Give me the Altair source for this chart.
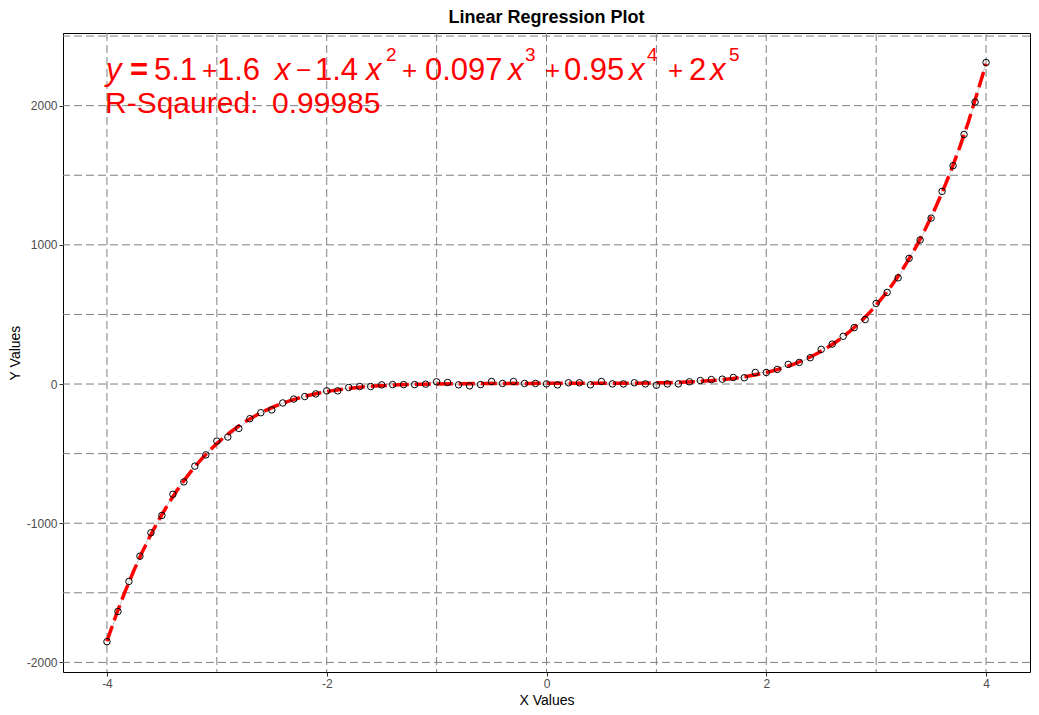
import altair as alt
import pandas as pd

# ---- data ----
x_vals = [round(-4.0 + 0.1 * i, 1) for i in range(81)]
y_vals = [
    -1851, -1634, -1418, -1237, -1069, -944, -792, -703, -590, -509,
    -410, -381, -319, -249, -206, -186, -136, -108, -90, -71,
    -49, -49, -25, -18, -18, -6, -4, -4, -4, -1,
    16, 11, -6, -13, -4, 18, 4, 18, 4, 4,
    1, -6, 9, 9, -6, 18, 1, 1, 9, 1,
    -9, 1, 1, 16, 25, 32, 35, 47, 45, 83,
    83, 105, 141, 155, 189, 249, 287, 343, 405, 463,
    579, 658, 763, 903, 1035, 1192, 1384, 1569, 1793, 2026,
    2310,
]
x_grid = [-4, -3, -2, -1, 0, 1, 2, 3, 4]
y_grid = [-2000, -1500, -1000, -500, 0, 500, 1000, 1500, 2000, 2500]
x_ticks = [-4, -2, 0, 2, 4]
y_ticks = [-2000, -1000, 0, 1000, 2000]

df = pd.DataFrame({"x": x_vals, "y": y_vals})
gx = pd.DataFrame({"v": x_grid})
gy = pd.DataFrame({"v": y_grid})

FONT = "Liberation Sans"
xs = alt.Scale(domain=[-4.4, 4.4], nice=False, zero=False)
ys = alt.Scale(domain=[-2069, 2522], nice=False, zero=False)

x_enc = alt.X("x:Q", scale=xs, title="X Values",
              axis=alt.Axis(values=x_ticks, labelExpr="datum.value + ''"))
y_enc = alt.Y("y:Q", scale=ys, title="Y Values",
              axis=alt.Axis(values=y_ticks, labelExpr="datum.value + ''"))

grid_style = dict(color="#7f7f7f", strokeWidth=1, strokeDash=[8, 4])
vgrid = alt.Chart(gx).mark_rule(**grid_style).encode(x=alt.X("v:Q", scale=xs))
hgrid = alt.Chart(gy).mark_rule(**grid_style).encode(y=alt.Y("v:Q", scale=ys))

conn = alt.Chart(df).mark_line(color="#c8c8c8", strokeWidth=1).encode(x=x_enc, y=y_enc)

fit = alt.Chart(df).transform_regression(
    "x", "y", method="poly", order=5
).mark_line(color="#ff0000", strokeWidth=3.5, strokeDash=[16, 6], strokeCap="butt").encode(
    x=x_enc, y=y_enc
)

pts = alt.Chart(df).mark_point(
    shape="circle", filled=False, color="black", strokeWidth=1, size=42, opacity=1
).encode(x=x_enc, y=y_enc)

# ---- annotation (equation pieces) ----
main_size, sup_size, plus_size = 31, 19, 26
base, sup_base, r_base = 47, 28, 80
pieces = [
    ("y", 43, base, main_size, "italic", "normal"),
    ("=", 67, base, main_size, "normal", "bold"),
    ("5.1", 91, base, main_size, "normal", "normal"),
    ("+", 139, base - 1, plus_size, "normal", "normal"),
    ("1.6", 154, base, main_size, "normal", "normal"),
    ("x", 212, base, main_size, "italic", "normal"),
    ("\u2212", 233, base - 1, plus_size, "normal", "normal"),
    ("1.4", 252, base, main_size, "normal", "normal"),
    ("x", 303, base, main_size, "italic", "normal"),
    ("2", 323, sup_base, sup_size, "normal", "normal"),
    ("+", 339, base - 1, plus_size, "normal", "normal"),
    ("0.097", 362, base, main_size, "normal", "normal"),
    ("x", 445, base, main_size, "italic", "normal"),
    ("3", 462, sup_base, sup_size, "normal", "normal"),
    ("+", 482, base - 1, plus_size, "normal", "normal"),
    ("0.95", 501, base, main_size, "normal", "normal"),
    ("x", 566, base, main_size, "italic", "normal"),
    ("4", 584, sup_base, sup_size, "normal", "normal"),
    ("+", 605, base - 1, plus_size, "normal", "normal"),
    ("2", 626, base, main_size, "normal", "normal"),
    ("x", 647, base, main_size, "italic", "normal"),
    ("5", 666, sup_base, sup_size, "normal", "normal"),
    ("R-Sqaured:", 42, r_base, 30, "normal", "normal"),
    ("0.99985", 209, r_base, 30, "normal", "normal"),
]
one = pd.DataFrame({"k": [0]})
texts = []
for t, px, py, fs, style, weight in pieces:
    texts.append(
        alt.Chart(one).mark_text(
            text=t, font=FONT, fontSize=fs, fontStyle=style, fontWeight=weight,
            color="#ff0000", align="left", baseline="alphabetic"
        ).encode(x=alt.value(px), y=alt.value(py))
    )

chart = alt.layer(vgrid, hgrid, conn, fit, pts, *texts).properties(
    width=1023, height=699,
    autosize=alt.AutoSizeParams(type="fit", contains="padding"),
    title=alt.TitleParams("Linear Regression Plot", font=FONT, fontSize=18,
                          fontWeight="bold", color="black", anchor="middle", offset=6),
    padding={"left": 0, "top": 0, "right": 0, "bottom": 0},
).configure_view(
    stroke="black", strokeWidth=1
).configure_axis(
    grid=False, domain=False, ticks=True, tickColor="#333333", tickSize=4, tickWidth=1,
    labelFont=FONT, labelFontSize=12, labelColor="#4d4d4d", labelPadding=2,
    titleFont=FONT, titleFontSize=14, titleFontWeight="normal", titleColor="black",
).configure_axisX(titlePadding=4).configure_axisY(titlePadding=4)

chart.save("out.html", embed_options={"renderer": "svg", "actions": False})
